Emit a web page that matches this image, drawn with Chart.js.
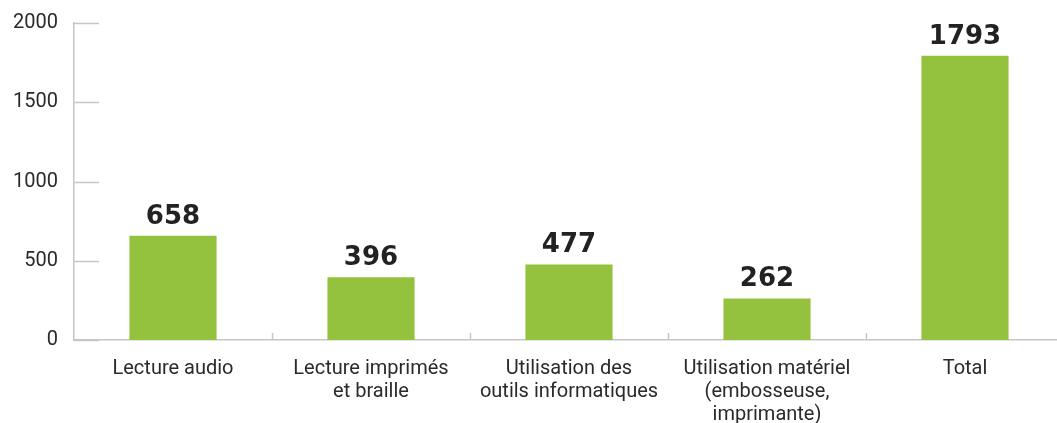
<!DOCTYPE html>
<html><head><meta charset="utf-8">
<script src="https://cdn.jsdelivr.net/npm/chart.js@4"></script>
<style>html,body{margin:0;padding:0;background:#fff;overflow:hidden}#wrap{width:1064px;height:423px;position:relative}</style>
</head><body><div id="wrap"><canvas id="c"></canvas></div>
<script>
const categories = [
  ["Lecture audio"],
  ["Lecture imprimés", "et braille"],
  ["Utilisation des", "outils informatiques"],
  ["Utilisation matériel", "(embosseuse,", "imprimante)"],
  ["Total"]
];
const values = [658, 396, 477, 262, 1793];
const yTicks = [0, 500, 1000, 1500, 2000];

const AXIS = '#c6c6c6';
const innerTicks = {
  id: 'innerTicks',
  afterDraw(chart) {
    const ctx = chart.ctx, a = chart.chartArea;
    const y = chart.scales.y, x = chart.scales.x;
    ctx.save();
    ctx.strokeStyle = AXIS; ctx.lineWidth = 1.5;
    ctx.beginPath();
    yTicks.forEach(v => { const py = Math.round(y.getPixelForValue(v)) + 0.5; ctx.moveTo(a.left, py); ctx.lineTo(a.left + 25, py); });
    for (let i = 1; i < categories.length; i++) {
      const px = Math.round((x.getPixelForValue(i - 1) + x.getPixelForValue(i)) / 2) + 0.5;
      ctx.moveTo(px, a.bottom); ctx.lineTo(px, a.bottom - 7);
    }
    ctx.stroke();
    ctx.restore();
  }
};
const valueLabels = {
  id: 'valueLabels',
  afterDatasetsDraw(chart) {
    const ctx = chart.ctx;
    const meta = chart.getDatasetMeta(0);
    ctx.save();
    ctx.font = 'bold 26px "DejaVu Sans"';
    ctx.fillStyle = '#222';
    ctx.textAlign = 'center'; ctx.textBaseline = 'alphabetic';
    meta.data.forEach((bar, i) => { ctx.fillText(String(values[i]), bar.x, bar.y - 12); });
    ctx.restore();
  }
};

new Chart(document.getElementById('c'), {
  type: 'bar',
  data: { labels: categories, datasets: [{ data: values, backgroundColor: '#95c23e', barPercentage: 0.44, categoryPercentage: 1 }] },
  options: {
    responsive: true, maintainAspectRatio: false, animation: false,
    layout: { padding: { top: 10, right: 0, left: 0, bottom: 0 } },
    plugins: { legend: { display: false }, tooltip: { enabled: false } },
    scales: {
      x: {
        grid: { display: false, drawTicks: false },
        border: { color: AXIS, width: 1.5 },
        ticks: { color: '#2a2a2a', font: { family: 'Roboto', size: 20, lineHeight: 1.15 }, padding: 17, maxRotation: 0, autoSkip: false },
        afterFit(s) { s.height = 83; }
      },
      y: {
        min: 0, max: 2000,
        afterBuildTicks(s) { s.ticks = yTicks.map(v => ({ value: v })); },
        grid: { display: false, drawTicks: false },
        border: { color: AXIS, width: 1.5 },
        ticks: { color: '#2a2a2a', font: { family: 'Roboto', size: 20, lineHeight: 0.7 }, padding: 16, callback: v => String(v) },
        afterFit(s) { s.width = 74; }
      }
    }
  },
  plugins: [innerTicks, valueLabels]
});
</script></body></html>
